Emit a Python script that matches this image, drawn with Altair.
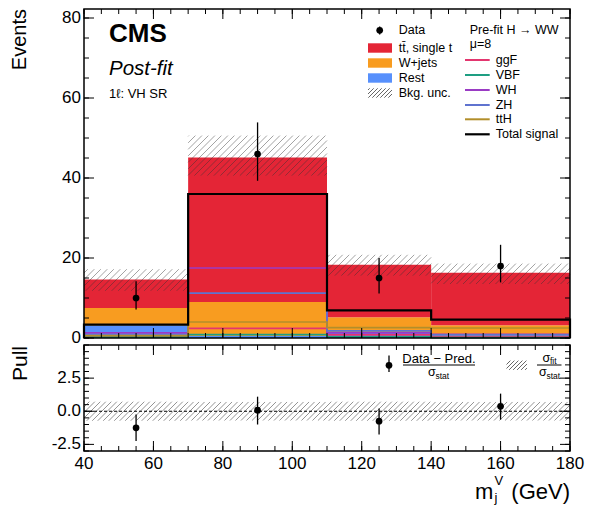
import altair as alt
import numpy as np
import pandas as pd

# ---------------- data ----------------
bin_lo = [40, 70, 110, 140]
bin_hi = [70, 110, 140, 180]
bin_mid = [55, 90, 125, 160]

bkg_procs = ["Rest", "W+jets", "tt̄, single t"]
bkg_rest = [3.2, 0.5, 1.5, 0.6]
bkg_wjets = [4.3, 8.5, 3.7, 2.6]
bkg_ttbar = [7.1, 36.1, 13.1, 13.1]
unc_lo = [11.8, 40.6, 15.6, 13.5]
unc_hi = [17.2, 50.6, 20.8, 18.6]

data_val = [10, 46, 15, 18]
data_err_lo = [7.1, 39.3, 11.1, 13.9]
data_err_hi = [14.2, 53.9, 20.0, 23.3]

sig_procs = ["ggF", "VBF", "WH", "ZH", "ttH"]
sig_ggf = [0.4, 2.4, 0.8, 0.3]
sig_vbf = [0.2, 0.85, 0.3, 0.1]
sig_wh = [1.3, 17.5, 1.3, 0.9]
sig_zh = [0.7, 11.2, 1.8, 0.8]
sig_tth = [0.6, 4.0, 2.6, 2.5]
sig_total = [3.35, 36.0, 6.9, 4.6]

pull_val = [-1.25, 0.08, -0.75, 0.37]
pull_lo = [-2.25, -1.0, -1.75, -0.63]
pull_hi = [-0.25, 1.1, 0.2, 1.33]
pull_band = [0.72, 0.70, 0.72, 0.70]

x_tick_values = [40, 60, 80, 100, 120, 140, 160, 180]
x_tick_text = ["40", "60", "80", "100", "120", "140", "160", "180"]
y1_tick_values = [0, 20, 40, 60, 80]
y1_tick_text = ["0", "20", "40", "60", "80"]
y2_tick_values = [-2.5, 0.0, 2.5]
y2_tick_text = ["-2.5", "0.0", "2.5"]

# ---------------- styles / layout ----------------
FONT = "Liberation Sans, Arial, Helvetica, sans-serif"
W = 486
H1 = 329
H2 = 106
X0, X1 = 40, 180
Y1MAX = 82.25
Y2MIN, Y2MAX = -3, 5
SX = W / (X1 - X0)
SY1 = H1 / Y1MAX
SY2 = H2 / (Y2MAX - Y2MIN)

col_bkg = {"Rest": "#5790fc", "W+jets": "#f89c20", "tt̄, single t": "#e42536"}
col_sig = {"ggF": "#e3366f", "VBF": "#1e9e82", "WH": "#9a3bc4", "ZH": "#5f73cf", "ttH": "#b28e2a"}
cdom = list(col_bkg) + list(col_sig)
cs = alt.Scale(domain=cdom, range=[col_bkg.get(k, col_sig.get(k)) for k in cdom])

xs = alt.Scale(domain=[X0, X1], nice=False, zero=False)
ys1 = alt.Scale(domain=[0, Y1MAX], nice=False, zero=False)
ys2 = alt.Scale(domain=[Y2MIN, Y2MAX], nice=False, zero=False)


# pixel offsets (from the plot's top-left corner) -> data units of each panel
def ux(px):
    return X0 + px / SX


def uy(py):
    return Y1MAX - py / SY1


def ly(py):
    return Y2MAX - py / SY2


def hatch(x0, x1, y0, y1, xd0, yd0, sx, sy, step):
    """45-degree hatch segments inside a rectangle (in data units)."""
    A0, A1 = (x0 - xd0) * sx, (x1 - xd0) * sx
    B0, B1 = (y0 - yd0) * sy, (y1 - yd0) * sy
    out = []
    for k in range(int(np.floor((B0 - A1) / step)) - 1, int(np.ceil((B1 - A0) / step)) + 2):
        c = k * step
        s = max(A0, B0 - c)
        e = min(A1, B1 - c)
        if e > s:
            out.append(dict(x=xd0 + s / sx, y=yd0 + (s + c) / sy,
                            x2=xd0 + e / sx, y2=yd0 + (e + c) / sy))
    return out


def XE(f):
    return alt.X(f, scale=xs, axis=None)


def make_text(ysc, yconv):
    def ptext(rows, **kw):
        df = pd.DataFrame([dict(x=ux(a), y=yconv(b), t=t) for a, b, t in rows])
        base = dict(font=FONT, color="black", align="left", baseline="alphabetic")
        base.update(kw)
        return alt.Chart(df).mark_text(**base).encode(
            x=XE("x:Q"), y=alt.Y("y:Q", scale=ysc, axis=None), text="t:N")
    return ptext


utext = make_text(ys1, uy)
ltext = make_text(ys2, ly)


def tick_layers(xvals_major, xvals_minor, yvals_major, yvals_minor, ys, H):
    layers = []
    for vals, ln in ((xvals_major, 10), (xvals_minor, 5)):
        df = pd.DataFrame({"v": vals})
        layers.append(alt.Chart(df).mark_rule(color="black", strokeWidth=1).encode(
            x=XE("v:Q"), y=alt.value(H), y2=alt.value(H - ln)))
        layers.append(alt.Chart(df).mark_rule(color="black", strokeWidth=1).encode(
            x=XE("v:Q"), y=alt.value(0), y2=alt.value(ln)))
    for vals, ln in ((yvals_major, 10), (yvals_minor, 5)):
        df = pd.DataFrame({"v": vals})
        layers.append(alt.Chart(df).mark_rule(color="black", strokeWidth=1).encode(
            y=alt.Y("v:Q", scale=ys, axis=None), x=alt.value(0), x2=alt.value(ln)))
        layers.append(alt.Chart(df).mark_rule(color="black", strokeWidth=1).encode(
            y=alt.Y("v:Q", scale=ys, axis=None), x=alt.value(W), x2=alt.value(W - ln)))
    return layers


def y_labels(vals, texts, ys):
    df = pd.DataFrame({"v": vals, "t": texts})
    return alt.Chart(df).mark_text(font=FONT, fontSize=17, color="black", align="right",
                                   baseline="middle").encode(
        y=alt.Y("v:Q", scale=ys, axis=None), x=alt.value(-3), text="t:N")


def x_labels(vals, texts, H):
    df = pd.DataFrame({"v": vals, "t": texts})
    return alt.Chart(df).mark_text(font=FONT, fontSize=17, color="black", align="center",
                                   baseline="middle").encode(
        x=XE("v:Q"), y=alt.value(H + 13), text="t:N")


def frame(H):
    return alt.Chart(pd.DataFrame({"a": [0]})).mark_rect(
        fillOpacity=0, stroke="black", strokeWidth=1.5).encode(
        x=alt.value(0), x2=alt.value(W), y=alt.value(0), y2=alt.value(H))


def seg_chart(rows, ysc, **kw):
    return alt.Chart(pd.DataFrame(rows)).mark_rule(**kw).encode(
        x=XE("x:Q"), y=alt.Y("y:Q", scale=ysc, axis=None), x2="x2:Q", y2="y2:Q")


# ---------------- upper panel ----------------
stack_rows = []
for i in range(4):
    base = 0.0
    for name, vals in zip(bkg_procs, [bkg_rest, bkg_wjets, bkg_ttbar]):
        stack_rows.append(dict(proc=name, lo=bin_lo[i], hi=bin_hi[i], y0=base, y1=base + vals[i]))
        base += vals[i]
stack_df = pd.DataFrame(stack_rows)

bars = alt.Chart(stack_df).mark_rect().encode(
    x=XE("lo:Q"), x2="hi:Q",
    y=alt.Y("y0:Q", scale=ys1, axis=None), y2="y1:Q",
    color=alt.Color("proc:N", scale=cs, legend=None))

hrows = []
for i in range(4):
    hrows += hatch(bin_lo[i], bin_hi[i], unc_lo[i], unc_hi[i], X0, 0, SX, SY1, 6.5)
hatch_up = seg_chart(hrows, ys1, color="#333333", opacity=0.5, strokeWidth=0.9)


def step_rows(name, vals):
    xe = [bin_lo[0]] + bin_lo + [bin_hi[-1], bin_hi[-1]]
    ye = [0] + list(vals) + [vals[-1], 0]
    return [dict(proc=name, i=k, x=a, y=b) for k, (a, b) in enumerate(zip(xe, ye))]


srows = []
for name, vals in zip(sig_procs, [sig_ggf, sig_vbf, sig_wh, sig_zh, sig_tth]):
    srows += step_rows(name, vals)
sig_lines = alt.Chart(pd.DataFrame(srows)).mark_line(interpolate="step-after", strokeWidth=1.7).encode(
    x=XE("x:Q"), y=alt.Y("y:Q", scale=ys1, axis=None),
    color=alt.Color("proc:N", scale=cs, legend=None), order="i:Q")
tot_line = alt.Chart(pd.DataFrame(step_rows("Total", sig_total))).mark_line(
    interpolate="step-after", strokeWidth=2.2, color="black").encode(
    x=XE("x:Q"), y=alt.Y("y:Q", scale=ys1, axis=None), order="i:Q")

ddf = pd.DataFrame(dict(x=bin_mid, y=data_val, lo=data_err_lo, hi=data_err_hi))
d_err = alt.Chart(ddf).mark_rule(color="black", strokeWidth=1.3).encode(
    x=XE("x:Q"), y=alt.Y("lo:Q", scale=ys1, axis=None), y2="hi:Q")
d_pts = alt.Chart(ddf).mark_circle(color="black", opacity=1, size=45).encode(
    x=XE("x:Q"), y=alt.Y("y:Q", scale=ys1, axis=None))

ticks_up = tick_layers(x_tick_values, np.arange(40, 181, 5), y1_tick_values, np.arange(0, 82.1, 5), ys1, H1)

# legend (pixel offsets converted to panel units)
LX = 284
leg_boxes = alt.Chart(pd.DataFrame([
    dict(proc="tt̄, single t", a=ux(LX), b=ux(LX + 24), c=uy(34.3), d=uy(43.7)),
    dict(proc="W+jets", a=ux(LX), b=ux(LX + 24), c=uy(49.3), d=uy(58.7)),
    dict(proc="Rest", a=ux(LX), b=ux(LX + 24), c=uy(64.3), d=uy(73.7)),
])).mark_rect().encode(x=XE("a:Q"), x2="b:Q", y=alt.Y("c:Q", scale=ys1, axis=None), y2="d:Q",
                       color=alt.Color("proc:N", scale=cs, legend=None))
leg_hatch = seg_chart(hatch(ux(LX), ux(LX + 24), uy(88.7), uy(79.3), X0, 0, SX, SY1, 4.0), ys1,
                      color="#555555", strokeWidth=0.9)
leg_dat_err = alt.Chart(pd.DataFrame([dict(a=ux(LX + 11.7), c=uy(17.5), d=uy(25.5))])).mark_rule(
    color="black", strokeWidth=1.3).encode(x=XE("a:Q"), y=alt.Y("c:Q", scale=ys1, axis=None), y2="d:Q")
leg_dat_pt = alt.Chart(pd.DataFrame([dict(a=ux(LX + 11.7), c=uy(21.3))])).mark_circle(
    color="black", opacity=1, size=45).encode(x=XE("a:Q"), y=alt.Y("c:Q", scale=ys1, axis=None))
RX = 381
leg_sig = alt.Chart(pd.DataFrame([
    dict(proc=p, a=ux(RX), b=ux(RX + 24.7), c=uy(yy))
    for p, yy in zip(sig_procs, [51, 66, 81, 96, 110.3])
])).mark_rule(strokeWidth=2).encode(x=XE("a:Q"), x2="b:Q", y=alt.Y("c:Q", scale=ys1, axis=None),
                                     color=alt.Color("proc:N", scale=cs, legend=None))
leg_tot = alt.Chart(pd.DataFrame([dict(a=ux(RX), b=ux(RX + 24.7), c=uy(125.3))])).mark_rule(
    strokeWidth=2.2, color="black").encode(x=XE("a:Q"), x2="b:Q", y=alt.Y("c:Q", scale=ys1, axis=None))

leg_txt = utext([
    (LX + 30.7, 21.3, "Data"), (LX + 30.7, 38.7, "tt̄, single t"), (LX + 30.7, 54, "W+jets"),
    (LX + 30.7, 69, "Rest"), (LX + 30.7, 84, "Bkg. unc."),
    (RX + 4.7, 21.3, "Pre-fit H → WW"), (RX + 4.7, 35.3, "μ=8"),
    (RX + 30.7, 51, "ggF"), (RX + 30.7, 66, "VBF"), (RX + 30.7, 81, "WH"), (RX + 30.7, 96, "ZH"),
    (RX + 30.7, 110.3, "ttH"), (RX + 30.7, 125.3, "Total signal"),
], fontSize=12.5, baseline="middle")

cms_txt = utext([(25, 32.7, "CMS")], fontSize=26, fontWeight="bold")
post_txt = utext([(25, 66, "Post-fit")], fontSize=20.5, fontStyle="italic")
reg_txt = utext([(25, 89.3, "1ℓ: VH SR")], fontSize=13)
events_txt = utext([(-64, 0, "Events")], fontSize=20, angle=270, align="right", baseline="middle")

upper = alt.layer(
    bars, hatch_up, sig_lines, tot_line, d_err, d_pts, *ticks_up, frame(H1),
    leg_boxes, leg_hatch, leg_dat_err, leg_dat_pt, leg_sig, leg_tot,
    leg_txt, cms_txt, post_txt, reg_txt, events_txt,
    y_labels(y1_tick_values, y1_tick_text, ys1),
).properties(width=W, height=H1)

# ---------------- lower (pull) panel ----------------
prow = []
for i in range(4):
    prow += hatch(bin_lo[i], bin_hi[i], -pull_band[i], pull_band[i], X0, Y2MIN, SX, SY2, 5.5)
hatch_lo = seg_chart(prow, ys2, color="#555555", opacity=0.7, strokeWidth=0.9)

zero_line = alt.Chart(pd.DataFrame({"y": [0.0]})).mark_rule(
    color="black", strokeWidth=1, strokeDash=[3, 2]).encode(
    y=alt.Y("y:Q", scale=ys2, axis=None), x=alt.value(0), x2=alt.value(W))

pdf = pd.DataFrame(dict(x=bin_mid, y=pull_val, lo=pull_lo, hi=pull_hi))
p_err = alt.Chart(pdf).mark_rule(color="black", strokeWidth=1.3).encode(
    x=XE("x:Q"), y=alt.Y("lo:Q", scale=ys2, axis=None), y2="hi:Q")
p_pts = alt.Chart(pdf).mark_circle(color="black", opacity=1, size=45).encode(
    x=XE("x:Q"), y=alt.Y("y:Q", scale=ys2, axis=None))

ticks_lo = tick_layers(x_tick_values, np.arange(40, 181, 5), y2_tick_values,
                       np.arange(-3, 5.01, 0.5), ys2, H2)

PX = 305
pl_err = alt.Chart(pd.DataFrame([dict(a=ux(PX), c=ly(10.5), d=ly(27.0))])).mark_rule(
    color="black", strokeWidth=1.3).encode(x=XE("a:Q"), y=alt.Y("c:Q", scale=ys2, axis=None), y2="d:Q")
pl_pt = alt.Chart(pd.DataFrame([dict(a=ux(PX), c=ly(20.3))])).mark_circle(
    color="black", opacity=1, size=45).encode(x=XE("a:Q"), y=alt.Y("c:Q", scale=ys2, axis=None))
pl_frac = alt.Chart(pd.DataFrame([dict(a=ux(PX + 14), b=ux(PX + 86), c=ly(20)),
                                  dict(a=ux(PX + 148), b=ux(PX + 172.5), c=ly(20))])).mark_rule(
    color="black", strokeWidth=1).encode(x=XE("a:Q"), x2="b:Q", y=alt.Y("c:Q", scale=ys2, axis=None))
pl_hatch = seg_chart(hatch(ux(PX + 117.5), ux(PX + 138), ly(24.9), ly(15.6), X0, Y2MIN, SX, SY2, 4.0), ys2,
                     color="#555555", strokeWidth=0.9)

pl_num = ltext([(PX + 50, 17.5, "Data − Pred.")], fontSize=13, align="center")
pl_sig = ltext([(PX + 39, 31.4, "σ"), (PX + 150, 31.4, "σ"), (PX + 153.5, 17.0, "σ")], fontSize=12.5)
pl_sub = ltext([(PX + 46.5, 34, "stat"), (PX + 157.5, 34, "stat"), (PX + 161, 19, "fit")], fontSize=8.5)
pull_txt = ltext([(-63, 1, "Pull")], fontSize=21, angle=270, align="right", baseline="middle")
xt_big = ltext([(W - 95, 154, "m")], fontSize=22)
xt_big2 = ltext([(W, 154, "(GeV)")], fontSize=22, align="right")
xt_small = ltext([(W - 75.5, 157, "j"), (W - 75.5, 140, "V")], fontSize=13)

lower = alt.layer(
    hatch_lo, zero_line, p_err, p_pts, *ticks_lo, frame(H2),
    pl_err, pl_pt, pl_frac, pl_hatch, pl_num, pl_sig, pl_sub, pull_txt, xt_big, xt_big2, xt_small,
    y_labels(y2_tick_values, y2_tick_text, ys2), x_labels(x_tick_values, x_tick_text, H2),
).properties(width=W, height=H2)

chart = alt.vconcat(upper, lower, spacing=7, bounds="flush").properties(
    padding={"left": 2, "top": 0, "right": 0, "bottom": 0}
).configure_view(strokeWidth=0)

chart.save("out.html", embed_options={"renderer": "svg", "actions": False})
